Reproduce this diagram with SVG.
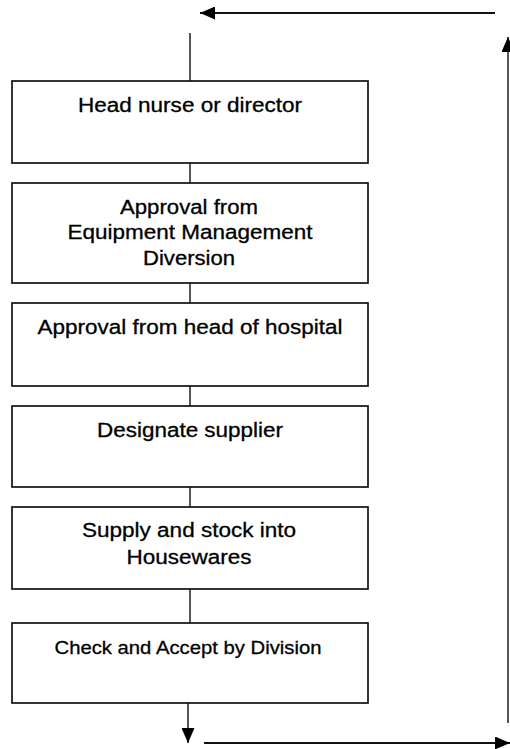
<svg xmlns="http://www.w3.org/2000/svg" width="510" height="749" viewBox="0 0 510 749">
<style>
.box{fill:#fff;stroke:#111;stroke-width:1.7}
.t{font-family:"Liberation Sans",Arial,sans-serif;font-size:20px;fill:#000;stroke:#000;stroke-width:0.3;text-anchor:middle}
.s{font-size:19px}
.c{stroke:#111;stroke-width:1.4;fill:none}
.a{stroke:#111;stroke-width:2;fill:none}
</style>
<defs>
<marker id="ah" viewBox="0 0 15 13" refX="15" refY="6.5" markerWidth="15" markerHeight="13" markerUnits="userSpaceOnUse" orient="auto">
<path d="M0,0 L15,6.5 L0,13 Z" fill="#000"/>
</marker>
</defs>
<g id="connectors">
<line class="a" x1="495" y1="13" x2="200" y2="13" marker-end="url(#ah)"/>
<line class="c" x1="190" y1="33" x2="190" y2="81"/>
<line class="c" x1="190" y1="163" x2="190" y2="183"/>
<line class="c" x1="190" y1="283" x2="190" y2="303"/>
<line class="c" x1="190" y1="386" x2="190" y2="406"/>
<line class="c" x1="190" y1="487" x2="190" y2="507"/>
<line class="c" x1="190" y1="589" x2="190" y2="623"/>
<line class="c" x1="188" y1="703" x2="188" y2="743" marker-end="url(#ah)"/>
<line class="a" x1="204" y1="743" x2="510" y2="743" marker-end="url(#ah)"/>
<line class="c" x1="508" y1="723" x2="508" y2="37" marker-end="url(#ah)"/>
</g>
<g id="n1">
<rect class="box" x="12" y="81" width="356" height="82"/>
<text class="t" x="190" y="112" textLength="224" lengthAdjust="spacingAndGlyphs">Head nurse or director</text>
</g>
<g id="n2">
<rect class="box" x="12" y="183" width="356" height="100"/>
<text class="t" x="189" y="214" textLength="138" lengthAdjust="spacingAndGlyphs">Approval from</text>
<text class="t" x="190" y="239" textLength="245" lengthAdjust="spacingAndGlyphs">Equipment Management</text>
<text class="t" x="189" y="265" textLength="92" lengthAdjust="spacingAndGlyphs">Diversion</text>
</g>
<g id="n3">
<rect class="box" x="12" y="303" width="356" height="83"/>
<text class="t" x="190" y="334" textLength="305" lengthAdjust="spacingAndGlyphs">Approval from head of hospital</text>
</g>
<g id="n4">
<rect class="box" x="12" y="406" width="356" height="81"/>
<text class="t" x="190" y="437" textLength="186" lengthAdjust="spacingAndGlyphs">Designate supplier</text>
</g>
<g id="n5">
<rect class="box" x="12" y="507" width="356" height="82"/>
<text class="t" x="189" y="537" textLength="214" lengthAdjust="spacingAndGlyphs">Supply and stock into</text>
<text class="t" x="189" y="564" textLength="125" lengthAdjust="spacingAndGlyphs">Housewares</text>
</g>
<g id="n6">
<rect class="box" x="12" y="623" width="356" height="80"/>
<text class="t s" x="188" y="654" textLength="267" lengthAdjust="spacingAndGlyphs">Check and Accept by Division</text>
</g>
</svg>
